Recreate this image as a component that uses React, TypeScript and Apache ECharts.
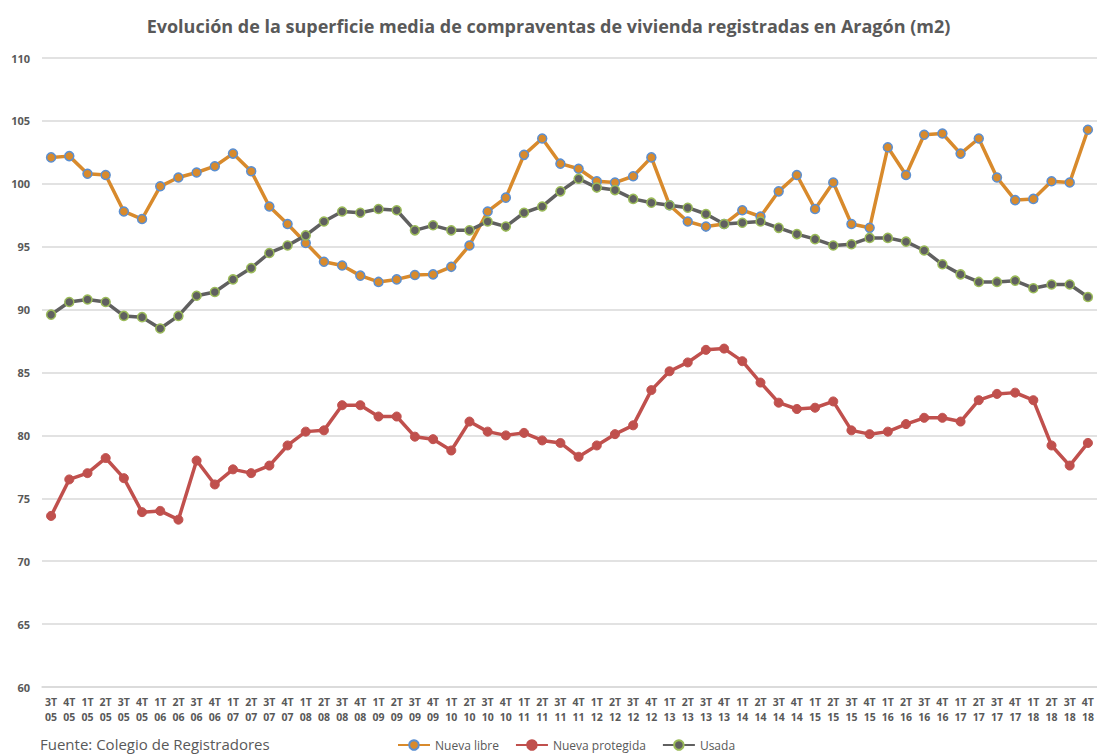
import React, { useEffect, useRef } from "react";
import * as echarts from "echarts";

const categories: string[] = [
  "3T\n05", "4T\n05", "1T\n05", "2T\n05", "3T\n05", "4T\n05",
  "1T\n06", "2T\n06", "3T\n06", "4T\n06",
  "1T\n07", "2T\n07", "3T\n07", "4T\n07",
  "1T\n08", "2T\n08", "3T\n08", "4T\n08",
  "1T\n09", "2T\n09", "3T\n09", "4T\n09",
  "1T\n10", "2T\n10", "3T\n10", "4T\n10",
  "1T\n11", "2T\n11", "3T\n11", "4T\n11",
  "1T\n12", "2T\n12", "3T\n12", "4T\n12",
  "1T\n13", "2T\n13", "3T\n13", "4T\n13",
  "1T\n14", "2T\n14", "3T\n14", "4T\n14",
  "1T\n15", "2T\n15", "3T\n15", "4T\n15",
  "1T\n16", "2T\n16", "3T\n16", "4T\n16",
  "1T\n17", "2T\n17", "3T\n17", "4T\n17",
  "1T\n18", "2T\n18", "3T\n18", "4T\n18",
];

const nuevaLibre: number[] = [
  102.1, 102.2, 100.8, 100.7, 97.8, 97.2, 99.8, 100.5, 100.9, 101.4,
  102.4, 101.0, 98.2, 96.8, 95.3, 93.8, 93.5, 92.7, 92.2, 92.4,
  92.75, 92.8, 93.4, 95.1, 97.8, 98.9, 102.3, 103.6, 101.6, 101.2,
  100.2, 100.1, 100.6, 102.1, 98.3, 97.0, 96.6, 96.8, 97.9, 97.4,
  99.4, 100.7, 98.0, 100.1, 96.8, 96.5, 102.9, 100.7, 103.9, 104.0,
  102.4, 103.6, 100.5, 98.7, 98.8, 100.2, 100.1, 104.3,
];

const nuevaProtegida: number[] = [
  73.6, 76.5, 77.0, 78.2, 76.6, 73.9, 74.0, 73.3, 78.0, 76.1,
  77.3, 77.0, 77.6, 79.2, 80.3, 80.4, 82.4, 82.4, 81.5, 81.5,
  79.9, 79.7, 78.8, 81.1, 80.3, 80.0, 80.2, 79.6, 79.4, 78.3,
  79.2, 80.1, 80.8, 83.6, 85.1, 85.8, 86.8, 86.9, 85.9, 84.2,
  82.6, 82.1, 82.2, 82.7, 80.4, 80.1, 80.3, 80.9, 81.4, 81.4,
  81.1, 82.8, 83.3, 83.4, 82.8, 79.2, 77.6, 79.4,
];

const usada: number[] = [
  89.6, 90.6, 90.8, 90.6, 89.5, 89.4, 88.5, 89.5, 91.1, 91.4,
  92.4, 93.3, 94.5, 95.1, 95.9, 97.0, 97.8, 97.7, 98.0, 97.9,
  96.3, 96.7, 96.3, 96.3, 97.0, 96.6, 97.7, 98.2, 99.4, 100.4,
  99.7, 99.5, 98.8, 98.5, 98.3, 98.1, 97.6, 96.8, 96.9, 97.0,
  96.5, 96.0, 95.6, 95.1, 95.2, 95.7, 95.7, 95.4, 94.7, 93.6,
  92.8, 92.2, 92.2, 92.3, 91.7, 92.0, 92.0, 91.0,
];

const FONT = "'Open Sans', 'Noto Sans', sans-serif";
const TXT = "#595959";

export default function App() {
  const ref = useRef<HTMLDivElement>(null);
  useEffect(() => {
    if (!ref.current) return;
    const chart = echarts.init(ref.current, undefined, { renderer: "svg" });
    chart.setOption({
      animation: false,
      backgroundColor: "#ffffff",
      textStyle: { fontFamily: FONT },
      title: {
        text: "Evolución de la superficie media de compraventas de vivienda registradas en Aragón (m2)",
        left: "center",
        top: 12,
        textStyle: { fontFamily: FONT, fontSize: 18, fontWeight: "bold", color: TXT },
      },
      graphic: [
        {
          type: "text",
          left: 40,
          top: 736,
          style: { text: "Fuente: Colegio de Registradores", fontFamily: FONT, fontSize: 15, fill: TXT },
        },
      ],
      legend: {
        left: 397,
        top: 739,
        padding: 0,
        itemWidth: 32,
        itemHeight: 12,
        itemGap: 16,
        textStyle: { fontFamily: FONT, fontSize: 12, color: TXT },
        data: ["Nueva libre", "Nueva protegida", "Usada"],
      },
      grid: { left: 42, right: 0, top: 58, bottom: 69 },
      xAxis: {
        type: "category",
        data: categories,
        boundaryGap: true,
        axisLine: { show: true, lineStyle: { color: "#D9D9D9", width: 1.5 } },
        axisTick: { show: false },
        axisLabel: {
          interval: 0,
          fontFamily: FONT,
          fontSize: 10.5,
          fontWeight: "bold",
          color: TXT,
          lineHeight: 15,
          margin: 7,
        },
      },
      yAxis: {
        type: "value",
        min: 60,
        max: 110,
        interval: 5,
        axisLine: { show: false },
        axisTick: { show: false },
        splitLine: { lineStyle: { color: "#D9D9D9", width: 1.5 } },
        axisLabel: { fontFamily: FONT, fontSize: 11, fontWeight: "bold", color: TXT, margin: 12 },
      },
      series: [
        {
          name: "Nueva libre",
          type: "line",
          data: nuevaLibre,
          symbol: "circle",
          symbolSize: 9,
          lineStyle: { color: "#D88A2C", width: 3.5 },
          itemStyle: { color: "#D88A2C", borderColor: "#5B8FD1", borderWidth: 1.5 },
        },
        {
          name: "Nueva protegida",
          type: "line",
          data: nuevaProtegida,
          symbol: "circle",
          symbolSize: 9,
          lineStyle: { color: "#C0504D", width: 3.5 },
          itemStyle: { color: "#C0504D", borderColor: "#C0504D", borderWidth: 1 },
        },
        {
          name: "Usada",
          type: "line",
          data: usada,
          symbol: "circle",
          symbolSize: 9,
          lineStyle: { color: "#606060", width: 3.5 },
          itemStyle: { color: "#606060", borderColor: "#9BBB59", borderWidth: 1.5 },
        },
      ],
    });
    return () => chart.dispose();
  }, []);
  return <div ref={ref} style={{ width: 1097, height: 756, position: "absolute", left: 0, top: 0 }} />;
}
